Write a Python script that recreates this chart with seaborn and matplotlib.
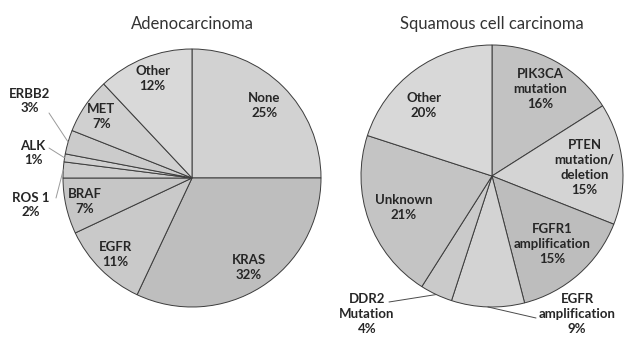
import numpy as np
import seaborn as sns
import matplotlib.pyplot as plt

sns.set_style("white")
plt.rcParams['font.family'] = ['Lato', 'DejaVu Sans']

# Adenocarcinoma (clockwise from 12 o'clock)
adeno_labels = ['None', 'KRAS', 'EGFR', 'BRAF', 'ROS 1', 'ALK', 'ERBB2', 'MET', 'Other']
adeno_values = [25, 32, 11, 7, 2, 1, 3, 7, 12]
adeno_colors = ['#d2d2d2', '#bebebe', '#c9c9c9', '#c6c6c6', '#cdcdcd', '#d0d0d0', '#cbcbcb', '#d0d0d0', '#d9d9d9']

# Squamous cell carcinoma
squam_labels = ['PIK3CA\nmutation', 'PTEN\nmutation/\ndeletion', 'FGFR1\namplification',
                'EGFR\namplification', 'DDR2\nMutation', 'Unknown', 'Other']
squam_values = [16, 15, 15, 9, 4, 21, 20]
squam_colors = ['#c2c2c2', '#d4d4d4', '#bdbdbd', '#d3d3d3', '#cacaca', '#c4c4c4', '#d8d8d8']

H = 355
fig = plt.figure(figsize=(6.4, 3.55), dpi=100)
ax = fig.add_axes([0, 0, 1, 1])

edge = dict(edgecolor='#3c3c3c', linewidth=0.7)


def mid_angles(values):
    cum = np.cumsum([0] + list(values))
    return 90 - 360 * (cum[:-1] + cum[1:]) / 2 / sum(values)


def draw_pie(values, colors, center, radius):
    ax.pie(values, colors=colors, startangle=90, counterclock=False,
           center=center, radius=radius, wedgeprops=edge)


def edge_point(center, radius, ang):
    a = np.deg2rad(ang)
    return center[0] + radius * np.cos(a), center[1] + radius * np.sin(a)


lab_kw = dict(ha='center', va='center', fontsize=9.5, fontweight='bold', color='#262626', linespacing=1.3)

# ---- left pie
c1, r1 = (192, H - 178), 129
draw_pie(adeno_values, adeno_colors, c1, r1)
ang1 = mid_angles(adeno_values)
inside1 = {'None': 0.79, 'KRAS': 0.82, 'EGFR': 0.84, 'BRAF': 0.85, 'MET': 0.85, 'Other': 0.83}
for lab, v, a in zip(adeno_labels, adeno_values, ang1):
    txt = f"{lab}\n{v}%"
    if lab in inside1:
        x, y = edge_point(c1, r1 * inside1[lab], a)
        ax.text(x, y, txt, **lab_kw)

outside1 = {'ERBB2': ((30, 101), (49, 113)), 'ALK': ((33, 153), (49, 148)), 'ROS 1': ((31, 205), (56, 198))}
for lab, v, a in zip(adeno_labels, adeno_values, ang1):
    if lab in outside1:
        (tx, ty), (lx, ly) = outside1[lab]
        ax.text(tx, H - ty, f"{lab}\n{v}%", **lab_kw)
        ex, ey = edge_point(c1, r1, a)
        ax.plot([lx, ex], [H - ly, ey], color='#9a9a9a', lw=0.7)

ax.text(192, H - 24, 'Adenocarcinoma', ha='center', va='center', fontsize=12, color='#333333')

# ---- right pie
c2, r2 = (492, H - 176), 131
draw_pie(squam_values, squam_colors, c2, r2)
ang2 = mid_angles(squam_values)
inside2 = {'PIK3CA\nmutation': 0.76, 'PTEN\nmutation/\ndeletion': 0.71,
           'FGFR1\namplification': 0.69, 'Unknown': 0.72, 'Other': 0.75}
for lab, v, a in zip(squam_labels, squam_values, ang2):
    txt = f"{lab}\n{v}%"
    if lab in inside2:
        x, y = edge_point(c2, r2 * inside2[lab], a + (8 if lab == 'Other' else 0))
        ax.text(x, y, txt, **lab_kw)

outside2 = {'EGFR\namplification': ((577, 314), (536, 318)), 'DDR2\nMutation': ((367, 314), (389, 302))}
for lab, v, a in zip(squam_labels, squam_values, ang2):
    if lab in outside2:
        (tx, ty), (lx, ly) = outside2[lab]
        ax.text(tx, H - ty, f"{lab}\n{v}%", **lab_kw)
        ex, ey = edge_point(c2, r2, a)
        ax.plot([lx, ex], [H - ly, ey], color='#4a4a4a', lw=0.7)

ax.text(492, H - 24, 'Squamous cell carcinoma', ha='center', va='center', fontsize=12, color='#333333')

ax.set_xlim(0, 640)
ax.set_ylim(0, H)
ax.set_aspect('equal')
ax.axis('off')

fig.savefig('out.png', dpi=100, facecolor='white')
